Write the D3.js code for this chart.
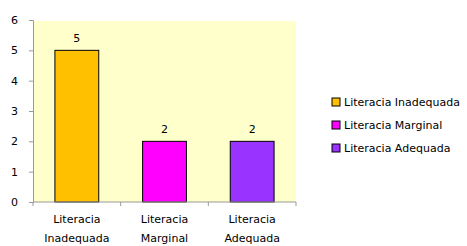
<!DOCTYPE html>
<html>
<head>
<meta charset="utf-8">
<script src="https://cdn.jsdelivr.net/npm/d3@7"></script>
<style>
  body { margin: 0; background: #fff; }
  text { font-family: "DejaVu Sans", Verdana, sans-serif; }
</style>
</head>
<body>
<div id="chart"></div>
<script>
const categories = ["Literacia Inadequada", "Literacia Marginal", "Literacia Adequada"]
const axisLabels = [["Literacia", "Inadequada"], ["Literacia", "Marginal"], ["Literacia", "Adequada"]]
const values = [5, 2, 2]
const colors = ["#FFC000", "#FF00FF", "#9933FF"]
const yTicks = [0, 1, 2, 3, 4, 5, 6]

const width = 467, height = 246
const margin = { top: 20, right: 171, bottom: 44, left: 33 }

const svg = d3.select("#chart").append("svg")
  .attr("width", width)
  .attr("height", height)

const x = d3.scaleBand()
  .domain(categories)
  .range([margin.left, width - margin.right])
  .paddingInner(0.5)
  .paddingOuter(0.25)

const y = d3.scaleLinear()
  .domain([0, 6])
  .range([height - margin.bottom, margin.top])

// plot background
svg.append("rect")
  .attr("x", margin.left)
  .attr("y", y(6) + 1)
  .attr("width", width - margin.right - margin.left)
  .attr("height", y(0) - y(6) - 1)
  .attr("fill", "#FFFFCC")

// bars
svg.selectAll("rect.bar")
  .data(values)
  .join("rect")
  .attr("class", "bar")
  .attr("x", (d, i) => x(categories[i]))
  .attr("y", d => y(d))
  .attr("width", x.bandwidth())
  .attr("height", d => y(0) - y(d))
  .attr("fill", (d, i) => colors[i])
  .attr("stroke", "#000")
  .attr("stroke-width", 1)

// value labels
svg.selectAll("text.val")
  .data(values)
  .join("text")
  .attr("class", "val")
  .attr("x", (d, i) => x(categories[i]) + x.bandwidth() / 2)
  .attr("y", d => y(d) - 8)
  .attr("text-anchor", "middle")
  .attr("font-size", 11)
  .attr("fill", "#000")
  .text(d => d)

// y axis
const yAxis = svg.append("g")
  .attr("transform", `translate(${margin.left},0)`)
  .call(d3.axisLeft(y).tickValues(yTicks).tickSize(4).tickFormat(d3.format("d")))
yAxis.select(".domain").attr("stroke", "#999")
yAxis.selectAll(".tick line").attr("stroke", "#999")
yAxis.selectAll(".tick text").attr("font-size", 11).attr("fill", "#000").attr("x", -15)

// x axis
const xAxis = svg.append("g")
  .attr("transform", `translate(0,${y(0)})`)
xAxis.append("line")
  .attr("x1", margin.left).attr("x2", width - margin.right)
  .attr("stroke", "#999")
const bounds = [margin.left, ...categories.map(c => x(c) + x.bandwidth() + x.step() * x.paddingInner() / 2)]
xAxis.selectAll("line.tk")
  .data(bounds)
  .join("line")
  .attr("class", "tk")
  .attr("x1", d => d).attr("x2", d => d)
  .attr("y1", 0).attr("y2", 4)
  .attr("stroke", "#999")
xAxis.selectAll("text.cat")
  .data(axisLabels)
  .join("text")
  .attr("class", "cat")
  .attr("x", (d, i) => x(categories[i]) + x.bandwidth() / 2)
  .attr("text-anchor", "middle")
  .attr("font-size", 11)
  .attr("fill", "#000")
  .selectAll("tspan")
  .data(d => d)
  .join("tspan")
  .attr("x", function () { return this.parentNode.getAttribute("x") })
  .attr("y", (d, j) => 21 + j * 19)
  .text(d => d)

// legend
const legend = svg.append("g").attr("transform", "translate(332,98)")
const item = legend.selectAll("g")
  .data(categories)
  .join("g")
  .attr("transform", (d, i) => `translate(0,${i * 23})`)
item.append("rect")
  .attr("width", 8).attr("height", 8)
  .attr("fill", (d, i) => colors[i])
  .attr("stroke", "#000")
item.append("text")
  .attr("x", 12).attr("y", 8)
  .attr("font-size", 11)
  .attr("fill", "#000")
  .text(d => d)
</script>
</body>
</html>
